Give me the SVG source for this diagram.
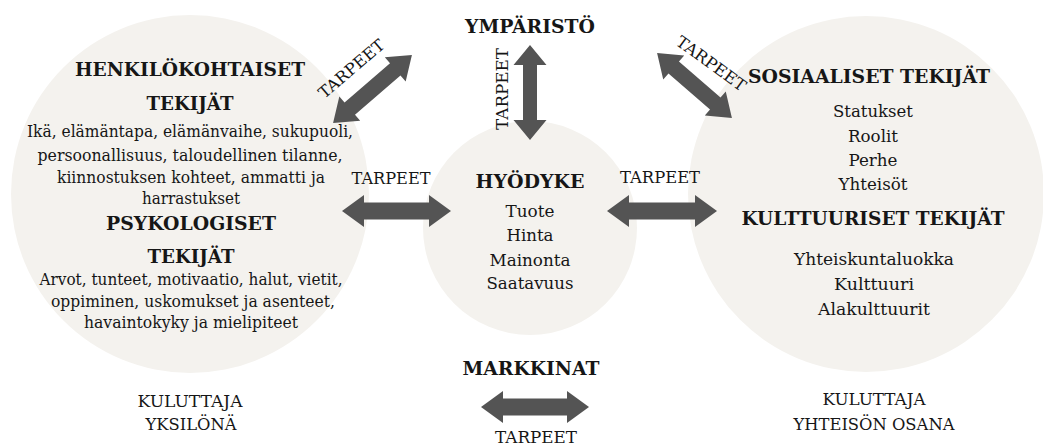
<svg xmlns="http://www.w3.org/2000/svg" width="1043" height="447" viewBox="0 0 1043 447">
<style>
  .bg{fill:#ffffff}
  .circ{fill:#f4f2ee}
  .arrow{fill:#545454}
  text{font-family:"DejaVu Serif","Liberation Serif",serif;fill:#161616;text-anchor:middle}
  .h{font-size:19px;font-weight:bold}
  .b{font-size:16px}
  .c{font-size:16.5px}
  .lbl{font-size:16px}
</style>
<rect class="bg" x="0" y="0" width="1043" height="447"/>

<g id="node-henkilo">
  <circle class="circ" cx="190" cy="194" r="179"/>
  <text class="h" x="190" y="76" textLength="230" lengthAdjust="spacingAndGlyphs">HENKILÖKOHTAISET</text>
  <text class="h" x="190" y="110" textLength="87" lengthAdjust="spacingAndGlyphs">TEKIJÄT</text>
  <text class="b" x="190" y="137" textLength="326" lengthAdjust="spacingAndGlyphs">Ikä, elämäntapa, elämänvaihe, sukupuoli,</text>
  <text class="b" x="190" y="161" textLength="305" lengthAdjust="spacingAndGlyphs">persoonallisuus, taloudellinen tilanne,</text>
  <text class="b" x="191" y="183" textLength="268" lengthAdjust="spacingAndGlyphs">kiinnostuksen kohteet, ammatti ja</text>
  <text class="b" x="191" y="204" textLength="98" lengthAdjust="spacingAndGlyphs">harrastukset</text>
  <text class="h" x="191" y="230" textLength="170" lengthAdjust="spacingAndGlyphs">PSYKOLOGISET</text>
  <text class="h" x="191" y="263" textLength="87" lengthAdjust="spacingAndGlyphs">TEKIJÄT</text>
  <text class="b" x="191" y="285" textLength="303" lengthAdjust="spacingAndGlyphs">Arvot, tunteet, motivaatio, halut, vietit,</text>
  <text class="b" x="193" y="307" textLength="284" lengthAdjust="spacingAndGlyphs">oppiminen, uskomukset ja asenteet,</text>
  <text class="b" x="191" y="328" textLength="214" lengthAdjust="spacingAndGlyphs">havaintokyky ja mielipiteet</text>
</g>

<g id="node-hyodyke">
  <circle class="circ" cx="530" cy="228" r="107"/>
  <text class="h" x="530" y="188" textLength="109" lengthAdjust="spacingAndGlyphs">HYÖDYKE</text>
  <text class="c" x="530" y="217" textLength="49" lengthAdjust="spacingAndGlyphs">Tuote</text>
  <text class="c" x="530" y="241" textLength="47" lengthAdjust="spacingAndGlyphs">Hinta</text>
  <text class="c" x="530" y="266" textLength="81" lengthAdjust="spacingAndGlyphs">Mainonta</text>
  <text class="c" x="530" y="289" textLength="87" lengthAdjust="spacingAndGlyphs">Saatavuus</text>
</g>

<g id="node-sosiaaliset">
  <circle class="circ" cx="866" cy="194" r="178"/>
  <text class="h" x="869" y="83" textLength="242" lengthAdjust="spacingAndGlyphs">SOSIAALISET TEKIJÄT</text>
  <text class="c" x="873" y="117" textLength="80" lengthAdjust="spacingAndGlyphs">Statukset</text>
  <text class="c" x="873" y="142" textLength="50" lengthAdjust="spacingAndGlyphs">Roolit</text>
  <text class="c" x="873" y="166" textLength="49" lengthAdjust="spacingAndGlyphs">Perhe</text>
  <text class="c" x="873" y="190" textLength="69" lengthAdjust="spacingAndGlyphs">Yhteisöt</text>
  <text class="h" x="873" y="225" textLength="263" lengthAdjust="spacingAndGlyphs">KULTTUURISET TEKIJÄT</text>
  <text class="c" x="874" y="265" textLength="160" lengthAdjust="spacingAndGlyphs">Yhteiskuntaluokka</text>
  <text class="c" x="874" y="290" textLength="80" lengthAdjust="spacingAndGlyphs">Kulttuuri</text>
  <text class="c" x="874" y="315" textLength="112" lengthAdjust="spacingAndGlyphs">Alakulttuurit</text>
</g>

<g id="node-ymparisto">
  <text class="h" x="530" y="33" textLength="130" lengthAdjust="spacingAndGlyphs">YMPÄRISTÖ</text>
</g>

<g id="node-markkinat">
  <text class="h" x="531" y="375" textLength="137" lengthAdjust="spacingAndGlyphs">MARKKINAT</text>
</g>

<g id="label-yksilona">
  <text class="lbl" x="190" y="407" textLength="105" lengthAdjust="spacingAndGlyphs">KULUTTAJA</text>
  <text class="lbl" x="191" y="430" textLength="91" lengthAdjust="spacingAndGlyphs">YKSILÖNÄ</text>
</g>

<g id="label-yhteison-osana">
  <text class="lbl" x="874" y="405" textLength="103" lengthAdjust="spacingAndGlyphs">KULUTTAJA</text>
  <text class="lbl" x="874" y="430" textLength="161" lengthAdjust="spacingAndGlyphs">YHTEISÖN OSANA</text>
</g>

<g id="connectors">
  <path class="arrow" transform="translate(372.5,89) rotate(-40.7)" d="M -52 0 L -30 -16 L -30 -8 L 30 -8 L 30 -16 L 52 0 L 30 16 L 30 8 L -30 8 L -30 16 Z"/>
  <text class="lbl" transform="translate(355,73) rotate(-40.5)" textLength="81" lengthAdjust="spacingAndGlyphs">TARPEET</text>
  <path class="arrow" transform="translate(530,92.5) rotate(90)" d="M -47.5 0 L -27.5 -16.5 L -27.5 -7 L 27.5 -7 L 27.5 -16.5 L 47.5 0 L 27.5 16.5 L 27.5 7 L -27.5 7 L -27.5 16.5 Z"/>
  <text class="lbl" transform="translate(508,89) rotate(-90)" textLength="82" lengthAdjust="spacingAndGlyphs">TARPEET</text>
  <path class="arrow" transform="translate(694.5,85.5) rotate(40.9)" d="M -49.5 0 L -27.5 -16 L -27.5 -8 L 27.5 -8 L 27.5 -16 L 49.5 0 L 27.5 16 L 27.5 8 L -27.5 8 L -27.5 16 Z"/>
  <text class="lbl" transform="translate(708,68) rotate(36)" textLength="82" lengthAdjust="spacingAndGlyphs">TARPEET</text>
  <path class="arrow" transform="translate(396.5,211)" d="M -54.5 0 L -32.5 -16 L -32.5 -8.5 L 32.5 -8.5 L 32.5 -16 L 54.5 0 L 32.5 16 L 32.5 8.5 L -32.5 8.5 L -32.5 16 Z"/>
  <text class="lbl" x="391" y="184" textLength="79" lengthAdjust="spacingAndGlyphs">TARPEET</text>
  <path class="arrow" transform="translate(662,211)" d="M -55 0 L -33 -16 L -33 -8.5 L 33 -8.5 L 33 -16 L 55 0 L 33 16 L 33 8.5 L -33 8.5 L -33 16 Z"/>
  <text class="lbl" x="660" y="183" textLength="80" lengthAdjust="spacingAndGlyphs">TARPEET</text>
  <path class="arrow" transform="translate(535,407)" d="M -54 0 L -32 -16 L -32 -8.5 L 32 -8.5 L 32 -16 L 54 0 L 32 16 L 32 8.5 L -32 8.5 L -32 16 Z"/>
  <text class="lbl" x="536" y="443" textLength="82" lengthAdjust="spacingAndGlyphs">TARPEET</text>
</g>
</svg>
